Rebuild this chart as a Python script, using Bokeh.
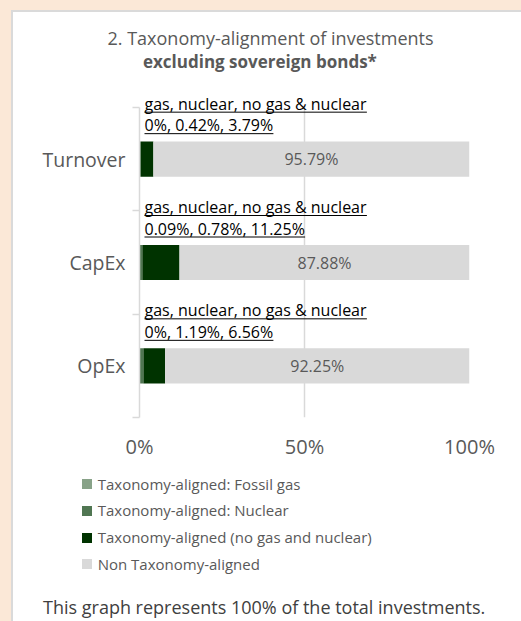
from bokeh.plotting import figure
from bokeh.layouts import column
from bokeh.models import (ColumnDataSource, Range1d, FixedTicker, Div,
                          PrintfTickFormatter, Title)
from bokeh.core.properties import value
from bokeh.embed import file_html
from bokeh.resources import INLINE

# ---------------- data ----------------
categories = ["Turnover", "CapEx", "OpEx"]
fossil_gas = [0.00, 0.09, 0.00]
nuclear = [0.42, 0.78, 1.19]
no_gas_nuclear = [3.79, 11.25, 6.56]
non_aligned = [95.79, 87.88, 92.25]
x_ticks = [0, 50, 100]
series_names = ["Taxonomy-aligned: Fossil gas",
                "Taxonomy-aligned: Nuclear",
                "Taxonomy-aligned (no gas and nuclear)",
                "Non Taxonomy-aligned"]
annotation_header = "gas, nuclear, no gas & nuclear"
title_line1 = "2. Taxonomy-alignment of investments"
title_line2 = "excluding sovereign bonds*"
footer_text = "This graph represents 100% of the total investments."

# ---------------- style / layout ----------------
FONT = "Open Sans"
GREY_TXT = "#595959"
PEACH = "#FBE8D7"
EDGE = "#DADADA"
GRID = "#D9D9D9"
colors = ["#88A288", "#507652", "#003300", "#D9D9D9"]
W = 521
H_TOP, H_BOT = 468, 153
n = len(categories)
BAR_AREA_TOP, BAR_AREA_H = 107, 310         # where categories live (px)
TOP_PAD = 16                                # frame room above for labels
FL, FW = 139, 330
FT, FH = BAR_AREA_TOP - TOP_PAD, BAR_AREA_H + TOP_PAD
PX_X = FW / 100.0
PX_Y = BAR_AREA_H / float(n)
BASE_SHIFT = 6      # rendered alphabetic baseline sits ~this many px low

# rough Open Sans advance widths (em) for the underlines
OS_W = {' ': 0.26, ',': 0.245, '.': 0.266, '%': 0.837, '&': 0.73, 'a': 0.556,
        'c': 0.478, 'e': 0.561, 'g': 0.55, 'l': 0.258, 'n': 0.618, 'o': 0.602,
        'r': 0.408, 's': 0.477, 'u': 0.618}


def text_w(s, size):
    return sum(OS_W.get(ch, 0.572) for ch in s) * size


y_pos = [n - i - 0.5 for i in range(n)]
bounds = list(range(n + 1))

src = ColumnDataSource(dict(y=y_pos, gas=fossil_gas, nuclear=nuclear,
                            nogas=no_gas_nuclear, non=non_aligned))

p = figure(width=W, height=H_TOP, x_range=Range1d(0, 100),
           y_range=Range1d(0, n + TOP_PAD / PX_Y),
           output_backend="svg", toolbar_location=None,
           min_border_left=FL, min_border_right=W - FL - FW,
           min_border_top=FT, min_border_bottom=H_TOP - FT - FH,
           background_fill_color="white", border_fill_alpha=0)
p.margin = 0
p.styles = {"background-color": "white",
            "box-shadow": "inset 11px 10px 0 0 %s, inset 13px 12px 0 0 %s"
                          % (PEACH, EDGE)}
p.outline_line_color = None

# vertical grid lines, limited to the category area
grid = p.xgrid[0]
grid.ticker = FixedTicker(ticks=x_ticks)
if "cross_bounds" in grid.properties():
    grid.cross_bounds = (0, n)
    grid.grid_line_color = GRID
    grid.grid_line_width = 1.5
else:
    grid.grid_line_color = None
    p.segment(x0=x_ticks, y0=[0] * len(x_ticks), x1=x_ticks,
              y1=[n] * len(x_ticks), line_color=GRID, line_width=1.5)
p.ygrid.grid_line_color = None

renderers = p.hbar_stack(["gas", "nuclear", "nogas", "non"], y="y", height=0.34,
                         fill_color=colors, line_color=None, source=src)

# value labels in the non-aligned segment
aligned_sum = [a + b + c for a, b, c in zip(fossil_gas, nuclear, no_gas_nuclear)]
val_src = ColumnDataSource(dict(
    x=[s + v / 2 for s, v in zip(aligned_sum, non_aligned)], y=y_pos,
    t=[f"{v:g}%" for v in non_aligned]))
p.text(x="x", y="y", text="t", source=val_src, text_align="center",
       text_baseline="middle", text_font=value(FONT),
       text_font_size=value("16px"), text_color=GREY_TXT)

# annotations above bars (underlined)
ANN_SIZE = 16
ann_x = 5 / PX_X
line1_base = [y + 49.5 / PX_Y for y in y_pos]
line2_base = [y + 28 / PX_Y for y in y_pos]
line2_t = [", ".join(f"{v:g}%" for v in vals)
           for vals in zip(fossil_gas, nuclear, no_gas_nuclear)]
all_t = [annotation_header] * n + line2_t
all_base = line1_base + line2_base
ann_src = ColumnDataSource(dict(
    x=[ann_x] * (2 * n), y=[b + BASE_SHIFT / PX_Y for b in all_base], t=all_t))
p.text(x="x", y="y", text="t", source=ann_src, text_align="left",
       text_baseline="alphabetic", text_font=value(FONT),
       text_font_size=value(f"{ANN_SIZE}px"), text_color="black")
ul_src = ColumnDataSource(dict(
    x0=[ann_x] * (2 * n),
    x1=[ann_x + text_w(t, ANN_SIZE) / PX_X for t in all_t],
    y=[b - 2.5 / PX_Y for b in all_base]))
p.segment(x0="x0", y0="y", x1="x1", y1="y", source=ul_src,
          line_color="black", line_width=1)

# axes
xa = p.xaxis[0]
xa.ticker = FixedTicker(ticks=x_ticks)
xa.formatter = PrintfTickFormatter(format="%d%%")
xa.axis_line_color = None
xa.major_tick_line_color = None
xa.minor_tick_line_color = None
xa.major_tick_out = 0
xa.major_tick_in = 0
xa.minor_tick_out = 0
xa.major_label_standoff = 15
xa.major_label_text_font = FONT
xa.major_label_text_font_size = "20px"
xa.major_label_text_color = GREY_TXT

ya = p.yaxis[0]
ya.ticker = FixedTicker(ticks=y_pos, minor_ticks=bounds)
ya.bounds = (0, n)
ya.major_label_overrides = {float(y): c for y, c in zip(y_pos, categories)}
ya.axis_line_color = GRID
ya.axis_line_width = 1.5
ya.major_tick_line_color = None
ya.major_tick_out = 0
ya.major_tick_in = 0
ya.minor_tick_line_color = GRID
ya.minor_tick_line_width = 1.5
ya.minor_tick_out = 7
ya.minor_tick_in = 0
ya.major_label_standoff = 7
ya.major_label_text_font = FONT
ya.major_label_text_font_size = "19.5px"
ya.major_label_text_color = GREY_TXT

# titles: first added sits closest to the frame
p.add_layout(Title(text=" ", text_font_size="1px", standoff=32.4 - TOP_PAD),
             "above")
p.add_layout(Title(text=title_line2, align="left", offset=3.5, standoff=-3,
                   text_font=FONT, text_font_size="17px",
                   text_font_style="bold", text_color=GREY_TXT), "above")
p.add_layout(Title(text=title_line1, align="left", offset=-32, standoff=0,
                   text_font=FONT, text_font_size="18px",
                   text_font_style="normal", text_color=GREY_TXT), "above")

# ---------------- legend + footer strip ----------------
LEG_LEFT, LEG_TOP, LEG_PITCH, SQ = 82, 11.3, 26.67, 10
parts = [
    '<div style="position:relative;width:%dpx;height:%dpx;background:white;'
    'overflow:hidden;font-family:\'%s\';">' % (W, H_BOT, FONT),
    '<div style="position:absolute;left:0;top:0;width:11px;height:%dpx;'
    'background:%s"></div>' % (H_BOT, PEACH),
    '<div style="position:absolute;left:11px;top:0;width:2px;height:%dpx;'
    'background:%s"></div>' % (H_BOT, EDGE),
]
for i, (nm, c) in enumerate(zip(series_names, colors)):
    top = LEG_TOP + i * LEG_PITCH
    parts.append('<div style="position:absolute;left:%dpx;top:%.1fpx;width:%dpx;'
                 'height:%dpx;background:%s"></div>' % (LEG_LEFT, top, SQ, SQ, c))
    parts.append('<div style="position:absolute;left:%.1fpx;top:%.1fpx;'
                 'font-size:15px;line-height:20px;color:%s;white-space:nowrap">'
                 '%s</div>' % (LEG_LEFT + SQ + 5.7, top - 5.8, GREY_TXT, nm))
parts.append('<div style="position:absolute;left:43px;top:127px;font-size:18px;'
             'line-height:24px;color:#404040;white-space:nowrap">%s</div>'
             % footer_text)
parts.append('</div>')
legend_div = Div(text="".join(parts), width=W, height=H_BOT, margin=0)

layout = column(p, legend_div, spacing=0)
open("out.html", "w").write(file_html(layout, INLINE))
